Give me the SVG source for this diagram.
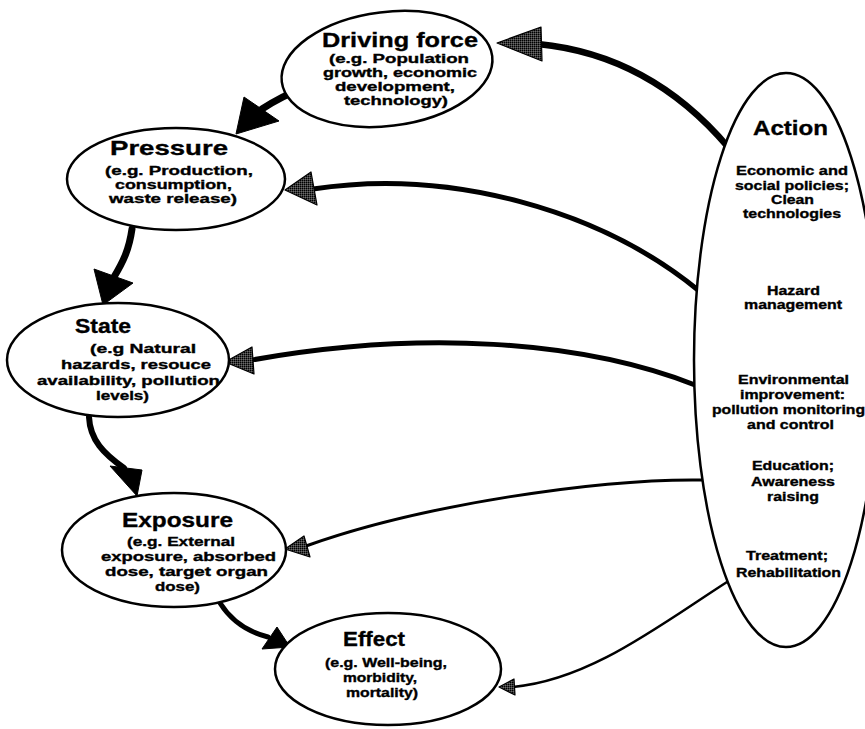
<svg xmlns="http://www.w3.org/2000/svg" width="865" height="729" viewBox="0 0 865 729">
<defs>
<pattern id="stipple" width="2" height="2" patternUnits="userSpaceOnUse">
<rect width="2" height="2" fill="#3a3a3a"/>
<rect width="1" height="1" fill="#000"/>
<rect x="1" y="1" width="1" height="1" fill="#6a6a6a"/>
</pattern>
</defs>
<style>
.node ellipse{fill:#fff;stroke:#000;stroke-width:2.5}
text{font-family:"Liberation Sans",Arial,Helvetica,sans-serif;font-weight:bold;fill:#000;stroke:#000;stroke-width:0.35}
.t{font-size:21px}
.b{font-size:12.5px}
.a{font-size:12.5px}
.line{fill:none;stroke:#000;stroke-linecap:round}
.head{fill:#000;stroke:#000;stroke-width:1;stroke-linejoin:round}
.ghead{fill:url(#stipple);stroke:#000;stroke-width:1.2;stroke-linejoin:round}
</style>
<rect width="865" height="729" fill="#fff"/>

<g id="connectors">
<path class="line" d="M303 88 Q282 96 262 109" stroke-width="7"/>
<polygon class="head" points="244,97 279,121 236,134"/>
<path class="line" d="M132 229 C129 250 123 262 114 277" stroke-width="7"/>
<polygon class="head" points="94,269 133,283 103,305"/>
<path class="line" d="M89 417 C90 440 104 454 124 468" stroke-width="6"/>
<polygon class="head" points="110,466 142,470 137,496"/>
<path class="line" d="M220 603 C232 622 248 632 268 637" stroke-width="5"/>
<polygon class="head" points="277,627 262,649 290,647"/>
<path class="line" d="M728 147 Q650 55 538 44" stroke-width="6.5"/>
<polygon class="ghead" points="541,27 542,61 497,43"/>
<path class="line" d="M698 290 C600 210 450 168 313 189" stroke-width="5"/>
<polygon class="ghead" points="311,172 317,205 285,190"/>
<path class="line" d="M695 385 C580 340 420 330 252 360" stroke-width="5"/>
<polygon class="ghead" points="252,347 254,374 225,362"/>
<path class="line" d="M705 480 C600 478 420 505 306 546" stroke-width="3"/>
<polygon class="ghead" points="304,536 310,557 285,549"/>
<path class="line" d="M727 582 C660 625 590 680 513 687" stroke-width="2.5"/>
<polygon class="ghead" points="514,679 515,695 499,687"/>
</g>

<g id="driving-force" class="node">
<ellipse cx="387" cy="69" rx="106" ry="57" transform="rotate(-7 387 69)"/>
<text class="t" x="322" y="47" textLength="156" lengthAdjust="spacingAndGlyphs">Driving force</text>
<text class="b" x="329" y="63" textLength="140" lengthAdjust="spacingAndGlyphs">(e.g. Population</text>
<text class="b" x="323" y="77" textLength="154" lengthAdjust="spacingAndGlyphs">growth, economic</text>
<text class="b" x="335" y="91" textLength="120" lengthAdjust="spacingAndGlyphs">development,</text>
<text class="b" x="344" y="105" textLength="104" lengthAdjust="spacingAndGlyphs">technology)</text>
</g>

<g id="pressure" class="node">
<ellipse cx="176" cy="179" rx="109" ry="51"/>
<text class="t" x="110" y="155" textLength="118" lengthAdjust="spacingAndGlyphs">Pressure</text>
<text class="b" x="105" y="175" textLength="148" lengthAdjust="spacingAndGlyphs">(e.g. Production,</text>
<text class="b" x="115" y="189" textLength="117" lengthAdjust="spacingAndGlyphs">consumption,</text>
<text class="b" x="109" y="203" textLength="128" lengthAdjust="spacingAndGlyphs">waste release)</text>
</g>

<g id="state" class="node">
<ellipse cx="118" cy="360" rx="111" ry="57"/>
<text class="t" x="75" y="333" textLength="56" lengthAdjust="spacingAndGlyphs">State</text>
<text class="b" x="90" y="353" textLength="106" lengthAdjust="spacingAndGlyphs">(e.g Natural</text>
<text class="b" x="61" y="369" textLength="150" lengthAdjust="spacingAndGlyphs">hazards, resouce</text>
<text class="b" x="37" y="385" textLength="183" lengthAdjust="spacingAndGlyphs">availability, pollution</text>
<text class="b" x="96" y="400" textLength="53" lengthAdjust="spacingAndGlyphs">levels)</text>
</g>

<g id="exposure" class="node">
<ellipse cx="174" cy="550" rx="112" ry="57"/>
<text class="t" x="122" y="527" textLength="111" lengthAdjust="spacingAndGlyphs">Exposure</text>
<text class="b" x="127" y="546" textLength="108" lengthAdjust="spacingAndGlyphs">(e.g. External</text>
<text class="b" x="101" y="561" textLength="175" lengthAdjust="spacingAndGlyphs">exposure, absorbed</text>
<text class="b" x="105" y="576" textLength="163" lengthAdjust="spacingAndGlyphs">dose, target organ</text>
<text class="b" x="155" y="591" textLength="45" lengthAdjust="spacingAndGlyphs">dose)</text>
</g>

<g id="effect" class="node">
<ellipse cx="388" cy="669" rx="113" ry="56"/>
<text class="t" x="343" y="646" textLength="62" lengthAdjust="spacingAndGlyphs">Effect</text>
<text class="b" x="325" y="667" textLength="122" lengthAdjust="spacingAndGlyphs">(e.g. Well-being,</text>
<text class="b" x="343" y="682" textLength="74" lengthAdjust="spacingAndGlyphs">morbidity,</text>
<text class="b" x="346" y="697" textLength="72" lengthAdjust="spacingAndGlyphs">mortality)</text>
</g>

<g id="action" class="node">
<ellipse cx="786" cy="360" rx="92" ry="287"/>
<text class="t" x="753" y="135" textLength="75" lengthAdjust="spacingAndGlyphs">Action</text>
<text class="a" x="736" y="175" textLength="112" lengthAdjust="spacingAndGlyphs">Economic and</text>
<text class="a" x="735" y="190" textLength="114" lengthAdjust="spacingAndGlyphs">social policies;</text>
<text class="a" x="771" y="204" textLength="43" lengthAdjust="spacingAndGlyphs">Clean</text>
<text class="a" x="743" y="218" textLength="98" lengthAdjust="spacingAndGlyphs">technologies</text>
<text class="a" x="767" y="295" textLength="53" lengthAdjust="spacingAndGlyphs">Hazard</text>
<text class="a" x="744" y="309" textLength="98" lengthAdjust="spacingAndGlyphs">management</text>
<text class="a" x="738" y="384" textLength="111" lengthAdjust="spacingAndGlyphs">Environmental</text>
<text class="a" x="740" y="399" textLength="105" lengthAdjust="spacingAndGlyphs">improvement:</text>
<text class="a" x="712" y="414" textLength="153" lengthAdjust="spacingAndGlyphs">pollution monitoring</text>
<text class="a" x="747" y="429" textLength="87" lengthAdjust="spacingAndGlyphs">and control</text>
<text class="a" x="752" y="470" textLength="82" lengthAdjust="spacingAndGlyphs">Education;</text>
<text class="a" x="751" y="486" textLength="84" lengthAdjust="spacingAndGlyphs">Awareness</text>
<text class="a" x="767" y="501" textLength="52" lengthAdjust="spacingAndGlyphs">raising</text>
<text class="a" x="746" y="560" textLength="82" lengthAdjust="spacingAndGlyphs">Treatment;</text>
<text class="a" x="736" y="577" textLength="105" lengthAdjust="spacingAndGlyphs">Rehabilitation</text>
</g>
</svg>
